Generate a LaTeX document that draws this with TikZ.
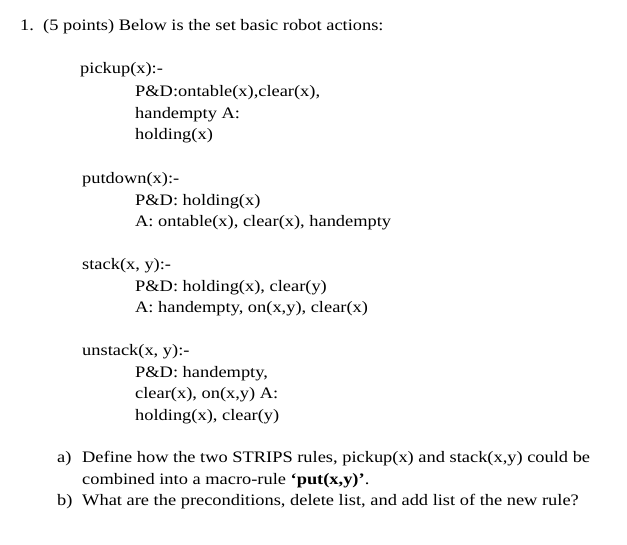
\documentclass[tikz,border=0pt]{standalone}
\usepackage{fontspec}
\setmainfont[FakeStretch=1.15]{Liberation Serif}
\begin{document}
\begin{tikzpicture}[x=1pt,y=-1pt,t/.style={anchor=west,inner sep=0pt,font=\fontsize{16}{18}\selectfont}]
\useasboundingbox[fill=white] (0,0) rectangle (627,545);
\node[t] (h) at (20,27) {1.\ \ (5 points) Below is the set basic robot actions:};
\node[t] (p1) at (80,70) {pickup(x):-};
\node[t] (p2) at (135,93) {P\&D:ontable(x),clear(x),};
\node[t] (p3) at (135,115) {handempty A:};
\node[t] (p4) at (135,136) {holding(x)};
\node[t] (d1) at (82,180) {putdown(x):-};
\node[t] (d2) at (135,202) {P\&D: holding(x)};
\node[t] (d3) at (135,223) {A: ontable(x), clear(x), handempty};
\node[t] (s1) at (82,266) {stack(x, y):-};
\node[t] (s2) at (135,288) {P\&D: holding(x), clear(y)};
\node[t] (s3) at (135,309) {A: handempty, on(x,y), clear(x)};
\node[t] (u1) at (82,352) {unstack(x, y):-};
\node[t] (u2) at (135,374) {P\&D: handempty,};
\node[t] (u3) at (135,395) {clear(x), on(x,y) A:};
\node[t] (u4) at (135,417) {holding(x), clear(y)};
\node[t] (a) at (57,459) {a)};
\node[t] (a1) at (82,459) {Define how the two STRIPS rules, pickup(x) and stack(x,y) could be};
\node[t] (a2) at (82,481) {combined into a macro-rule \textbf{‘put(x,y)’}.};
\node[t] (b) at (57,502) {b)};
\node[t] (b1) at (82,502) {What are the preconditions, delete list, and add list of the new rule?};
\end{tikzpicture}
\end{document}
